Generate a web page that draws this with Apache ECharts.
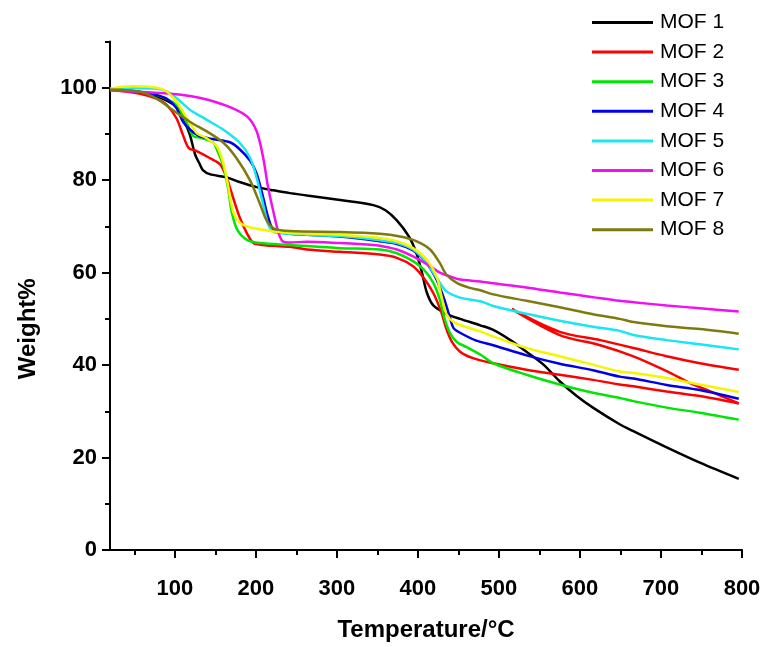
<!DOCTYPE html>
<html>
<head>
<meta charset="utf-8">
<script src="https://cdn.jsdelivr.net/npm/echarts@6/dist/echarts.min.js"></script>
<style>html,body{margin:0;padding:0;background:#fff}#c{width:770px;height:647px}</style>
</head>
<body>
<div id="c"></div>
<script>
// ---- data (Temperature °C, Weight %) ----
const seriesNames = ['MOF 1','MOF 2','MOF 3','MOF 4','MOF 5','MOF 6','MOF 7','MOF 8'];
const xMajorTicks = [100,200,300,400,500,600,700,800];
const xMinorTicks = [50,150,250,350,450,550,650,750];
const yMajorTicks = [0,20,40,60,80,100];
const yMinorTicks = [10,30,50,70,90,110];

const mof1 = [[20,99.7],[50,99.2],[80,98],[100,96.2],[108,94.8],[115,91.5],[119,89.6],[125,85.6],[131,83.4],[135,82.1],[143,81.3],[164,80.6],[180,79.6],[201,78.5],[222,77.8],[242,77.2],[263,76.7],[304,75.7],[345,74.6],[360,73.5],[374,71.3],[389,67.8],[398,64.3],[405,60.0],[411,55.7],[419,52.9],[435,51.1],[452,50.0],[477,48.6],[493,47.6],[514,45.4],[534,42.9],[555,40.1],[575,36.5],[596,33.3],[616,30.8],[649,27.2],[666,25.7],[707,22.2],[748,18.9],[796,15.4]];
const mof2 = [[20,99.6],[57,98.7],[78,97.6],[90,96.3],[102,93.4],[110,89.8],[117,87.0],[127,86.3],[143,84.8],[156,83.4],[164,80.5],[172,76.2],[180,72.0],[189,68.5],[197,66.4],[209,66.0],[222,65.8],[242,65.6],[263,65.0],[304,64.5],[353,63.9],[374,63.2],[394,61.4],[407,58.9],[419,55.6],[429,51.4],[435,47.9],[442,45.0],[452,42.9],[468,41.5],[493,40.4],[534,39.0],[575,37.9],[616,36.8],[649,35.8],[666,35.4],[707,34.3],[748,33.3],[796,31.7]];
const mof2Loop = [[796,31.7],[761,34.3],[736,36.1],[707,38.7],[666,41.9],[625,44.3],[575,46.5],[516,52.1],[575,47.2],[625,45.4],[666,43.7],[707,41.9],[748,40.4],[796,39.0]];
const mof3 = [[20,99.6],[50,99.3],[80,98.3],[100,96.5],[113,93.0],[123,89.5],[131,89.2],[147,88.2],[152,86.6],[160,83.0],[166,78.0],[170,73.3],[177,69.3],[189,67.1],[205,66.4],[242,66.0],[304,65.3],[353,65.0],[374,64.2],[394,62.5],[407,60.7],[419,57.8],[427,54.2],[433,50.0],[440,46.8],[448,45.0],[460,43.9],[477,42.3],[493,40.4],[534,37.9],[575,35.8],[616,34.0],[649,32.9],[666,32.2],[707,30.8],[748,29.7],[796,28.2]];
const mof4 = [[20,99.6],[57,99.1],[78,98.4],[90,97.6],[102,95.6],[110,92.7],[119,90.9],[131,89.5],[147,88.9],[168,88.2],[180,86.7],[193,84.2],[201,81.4],[209,76.3],[215,72.1],[222,69.3],[242,68.4],[263,68.2],[304,67.8],[353,66.8],[374,66.2],[394,64.8],[411,62.0],[423,58.5],[433,54.0],[440,50.0],[444,48.0],[452,47.0],[472,45.3],[493,44.3],[534,42.1],[575,40.3],[616,38.9],[649,37.5],[666,37.1],[707,35.7],[748,34.6],[796,32.7]];
const mof5 = [[20,99.7],[50,99.9],[77,99.8],[90,99.2],[106,97.2],[119,95.2],[139,93.1],[160,90.9],[180,88.1],[193,84.8],[201,80.5],[209,74.8],[215,70.5],[222,68.8],[242,68.4],[263,68.2],[304,67.9],[353,67.0],[374,66.4],[394,65.0],[411,62.1],[423,58.9],[435,56.0],[452,54.6],[477,53.8],[493,52.8],[534,51.1],[575,49.6],[616,48.3],[649,47.4],[666,46.5],[707,45.4],[748,44.5],[796,43.4]];
const mof6 = [[20,99.4],[57,99.1],[94,98.7],[119,98.2],[143,97.3],[168,95.8],[189,93.8],[201,90.6],[209,84.9],[215,78.6],[222,72.9],[228,68.6],[233,66.8],[242,66.5],[263,66.7],[304,66.4],[345,66.0],[353,65.8],[374,65.0],[394,63.5],[415,61.4],[427,60.0],[444,58.9],[452,58.5],[477,58.1],[493,57.7],[534,56.8],[575,55.7],[616,54.7],[649,53.9],[666,53.6],[707,52.9],[748,52.3],[796,51.6]];
const mof7 = [[20,99.8],[46,100.3],[78,100.0],[90,99.2],[102,97.0],[115,93.4],[127,90.2],[139,89.1],[152,87.3],[160,83.6],[165,79.5],[169,75.5],[173,72.7],[182,70.6],[197,69.6],[209,69.3],[222,68.9],[242,68.6],[304,68.2],[353,67.5],[374,66.8],[394,65.3],[411,62.8],[423,59.2],[429,55.0],[435,51.1],[444,49.3],[460,48.2],[477,47.3],[493,46.2],[534,43.7],[575,41.9],[616,40.1],[649,38.6],[666,38.3],[707,37.2],[748,35.8],[796,34.2]];
const mof8 = [[20,99.6],[57,99.1],[78,97.6],[98,95.1],[119,92.6],[139,90.6],[160,88.1],[176,84.8],[193,79.9],[205,74.9],[213,71.4],[222,69.6],[242,69.0],[304,68.8],[353,68.4],[378,67.8],[398,66.8],[415,65.0],[427,62.1],[435,59.6],[448,57.8],[464,56.7],[477,56.2],[493,55.3],[534,53.9],[575,52.5],[616,51.0],[649,50.0],[666,49.3],[707,48.4],[748,47.8],[796,46.8]];

const colors = ['#000000','#ff0000','#00e600','#0000e6','#19e6ee','#f010f0','#f5f500','#7d7a10'];
const FONT = "'Liberation Sans', Arial, sans-serif";

const dataList = [mof1, mof2, mof3, mof4, mof5, mof6, mof7, mof8];
const series = dataList.map((d, i) => ({
  name: seriesNames[i], type: 'line', data: d, xAxisIndex: 0, yAxisIndex: 0,
  showSymbol: false, symbol: 'none', smooth: 0.3,
  lineStyle: { color: colors[i], width: 2.5 }, itemStyle: { color: colors[i] },
  z: 2 + i
}));
series.splice(2, 0, {
  name: 'MOF 2', type: 'line', data: mof2Loop, showSymbol: false, symbol: 'none', smooth: 0.3,
  lineStyle: { color: colors[1], width: 2.5 }, itemStyle: { color: colors[1] }, z: 3
});

const chart = echarts.init(document.getElementById('c'), null, { renderer: 'canvas' });
const xBase = { type: 'value', min: 20, max: 800, gridIndex: 0, position: 'bottom', splitLine: { show: false } };
const yBase = { type: 'value', min: 0, max: 110, gridIndex: 0, position: 'left', splitLine: { show: false } };
chart.setOption({
  animation: false,
  backgroundColor: '#ffffff',
  grid: { left: 110, right: 28, top: 41.5, bottom: 88, containLabel: false },
  legend: {
    data: seriesNames, orient: 'vertical', left: 592, top: 12, padding: 0,
    icon: 'rect', itemWidth: 61, itemHeight: 3, itemGap: 8.6,
    textStyle: { fontFamily: FONT, fontSize: 21, color: '#000', padding: [0, 0, 0, 2] },
    selectedMode: false
  },
  xAxis: [
    Object.assign({}, xBase, {
      name: 'Temperature/°C', nameLocation: 'middle', nameGap: 68,
      nameTextStyle: { fontFamily: FONT, fontSize: 24, fontWeight: 'bold', color: '#000' },
      axisLine: { show: true, lineStyle: { color: '#000', width: 2 } },
      axisTick: { show: true, inside: false, length: 8, customValues: xMajorTicks, lineStyle: { color: '#000', width: 2 } },
      axisLabel: { show: true, customValues: xMajorTicks, margin: 28, fontFamily: FONT, fontSize: 22, fontWeight: 'bold', color: '#000' }
    }),
    Object.assign({}, xBase, {
      axisLine: { show: false },
      axisTick: { show: true, inside: false, length: 5, customValues: xMinorTicks, lineStyle: { color: '#000', width: 2 } },
      axisLabel: { show: false }
    })
  ],
  yAxis: [
    Object.assign({}, yBase, {
      name: 'Weight%', nameLocation: 'middle', nameGap: 70, nameRotate: 90,
      nameTextStyle: { fontFamily: FONT, fontSize: 24, fontWeight: 'bold', color: '#000', padding: [0, 66, 0, 0] },
      axisLine: { show: true, lineStyle: { color: '#000', width: 2 } },
      axisTick: { show: true, inside: false, length: 8, customValues: yMajorTicks, lineStyle: { color: '#000', width: 2 } },
      axisLabel: { show: true, customValues: yMajorTicks, margin: 13, fontFamily: FONT, fontSize: 22, fontWeight: 'bold', color: '#000' }
    }),
    Object.assign({}, yBase, {
      axisLine: { show: false },
      axisTick: { show: true, inside: false, length: 5, customValues: yMinorTicks, lineStyle: { color: '#000', width: 2 } },
      axisLabel: { show: false }
    })
  ],
  series: series
});
</script>
</body>
</html>
